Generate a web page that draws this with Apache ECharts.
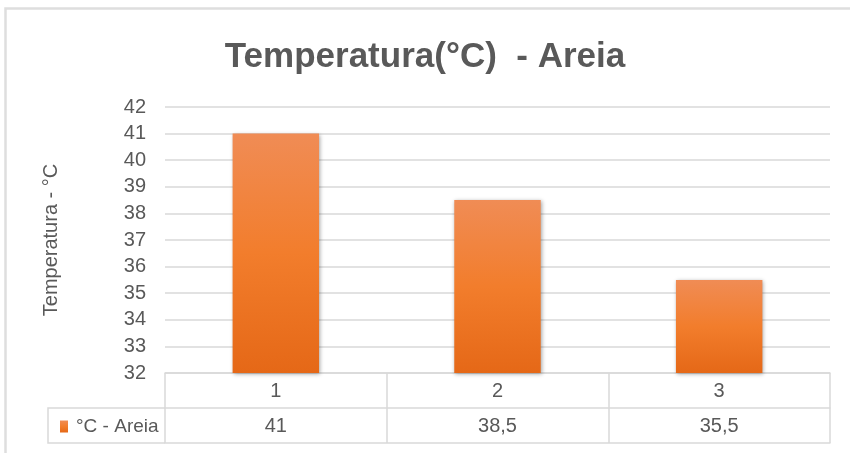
<!DOCTYPE html>
<html><head><meta charset="utf-8">
<script src="https://cdn.jsdelivr.net/npm/echarts@6/dist/echarts.min.js"></script>
<style>html,body{margin:0;padding:0;background:#fff}#c{width:850px;height:453px}</style>
</head><body><div id="c"></div>
<script>
const categories = ['1', '2', '3'];
const values = [41, 38.5, 35.5];
const valueLabels = ['41', '38,5', '35,5'];
const seriesName = '°C - Areia';
const yTicks = { min: 32, max: 42, interval: 1 };

const FONT = '"Liberation Sans", Arial, sans-serif';
const TXT = '#595959';
const LINE = '#d9d9d9';
const G = { left: 165, right: 20, top: 107, bottom: 80 };

const chart = echarts.init(document.getElementById('c'), null, { renderer: 'canvas' });
const H = 453, W = 850;
const yAxisLine = H - G.bottom;
chart.setOption({
  animation: false,
  backgroundColor: '#fff',
  title: {
    text: 'Temperatura(°C)  - Areia',
    left: 'center',
    top: 35,
    textStyle: { fontFamily: FONT, fontSize: 35, fontWeight: 'bold', color: TXT }
  },
  legend: {
    data: [seriesName],
    left: 55, top: 412,
    icon: 'rect', itemWidth: 8, itemHeight: 12, itemGap: 4,
    textStyle: { fontFamily: FONT, fontSize: 19, color: TXT, padding: [0,0,0,3] }
  },
  grid: G,
  xAxis: [
    {
      type: 'category', data: categories, position: 'bottom',
      axisLine: { show: true, lineStyle: { color: LINE, width: 1.5 } },
      axisTick: { show: true, length: 70, alignWithLabel: false, lineStyle: { color: LINE, width: 1.5 } },
      axisLabel: { margin: 8, fontFamily: FONT, fontSize: 20, color: TXT }
    },
    {
      type: 'category', data: valueLabels, position: 'bottom', offset: 35,
      axisLine: { show: true, lineStyle: { color: LINE, width: 1.5 } },
      axisTick: { show: false },
      axisLabel: { margin: 8, fontFamily: FONT, fontSize: 20, color: TXT }
    },
    {
      type: 'category', data: categories, position: 'bottom', offset: 70,
      axisLine: { show: true, lineStyle: { color: LINE, width: 1.5 } },
      axisTick: { show: false }, axisLabel: { show: false }
    }
  ],
  yAxis: {
    type: 'value', min: yTicks.min, max: yTicks.max, interval: yTicks.interval,
    name: 'Temperatura - °C', nameLocation: 'middle', nameGap: 104, nameRotate: 90,
    nameTextStyle: { fontFamily: FONT, fontSize: 20, color: TXT },
    axisLine: { show: false }, axisTick: { show: false },
    axisLabel: { margin: 19, fontFamily: FONT, fontSize: 20, color: TXT },
    splitLine: { lineStyle: { color: LINE, width: 1.5 } }
  },
  series: [{
    name: seriesName, type: 'bar', data: values, xAxisIndex: 0,
    barWidth: '39%',
    itemStyle: {
      color: new echarts.graphic.LinearGradient(0, 0, 0, 1, [
        { offset: 0, color: '#F08C55' },
        { offset: 0.5, color: '#F27D2C' },
        { offset: 1, color: '#E56817' }
      ]),
      shadowColor: 'rgba(0,0,0,0.35)', shadowBlur: 4, shadowOffsetX: 1, shadowOffsetY: 1
    }
  }],
  graphic: [
    { type: 'polyline', silent: true, z: 0,
      shape: { points: [[7, H + 5], [5.5, H + 5], [5.5, 8.5], [W + 5, 8.5]] },
      style: { stroke: '#dedede', lineWidth: 2.5, fill: null } },
    { type: 'polyline', silent: true,
      shape: { points: [[G.left, yAxisLine + 35], [48, yAxisLine + 35], [48, yAxisLine + 70], [G.left, yAxisLine + 70]] },
      style: { stroke: LINE, lineWidth: 1.5, fill: null } }
  ]
});
</script></body></html>
